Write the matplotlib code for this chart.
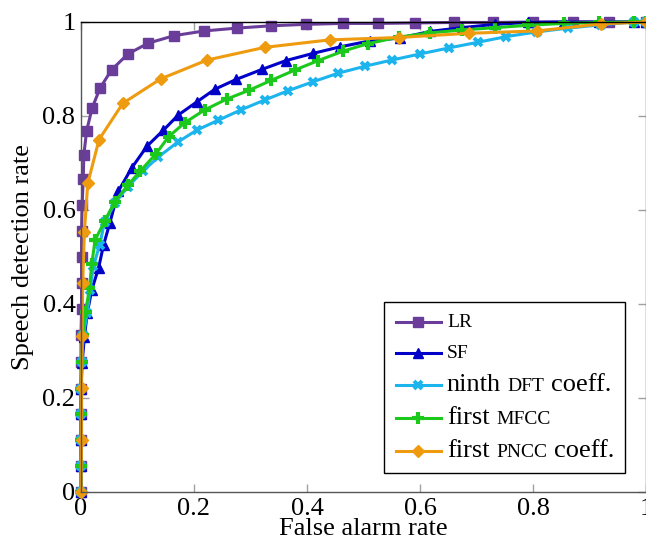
import matplotlib
matplotlib.use("Agg")
import matplotlib.pyplot as plt
from matplotlib.lines import Line2D
from matplotlib.offsetbox import (AnchoredOffsetbox, VPacker, HPacker,
                                  TextArea, DrawingArea)

plt.rcParams['font.family'] = ['Liberation Serif', 'DejaVu Serif']

# ---- data ----
lr_x = [0, 0, 0, 0, 0, 0, 0, 0.001, 0.001, 0.001, 0.001, 0.002, 0.004, 0.005, 0.01, 0.02,
        0.034, 0.054, 0.083, 0.119, 0.165, 0.218, 0.276, 0.337, 0.399, 0.463, 0.526, 0.591,
        0.66, 0.73, 0.8, 0.87, 0.935, 1.0]
lr_y = [0, 0.055, 0.11, 0.165, 0.22, 0.277, 0.333, 0.39, 0.444, 0.50, 0.555, 0.61, 0.666,
        0.717, 0.769, 0.818, 0.860, 0.898, 0.932, 0.955, 0.971, 0.981, 0.987, 0.992, 0.995,
        0.997, 0.997, 0.998, 0.999, 0.999, 1.0, 1.0, 1.0, 1.0]

sf_x = [0, 0, 0, 0, 0, 0.002, 0.006, 0.011, 0.019, 0.031, 0.040, 0.051, 0.066, 0.09, 0.117,
        0.146, 0.172, 0.205, 0.237, 0.275, 0.32, 0.363, 0.41, 0.458, 0.512, 0.565, 0.618,
        0.674, 0.733, 0.792, 0.854, 0.916, 0.978, 1.0]
sf_y = [0, 0.055, 0.11, 0.165, 0.22, 0.275, 0.33, 0.38, 0.43, 0.476, 0.526, 0.572, 0.64,
        0.69, 0.736, 0.770, 0.802, 0.830, 0.857, 0.878, 0.899, 0.918, 0.933, 0.947, 0.960,
        0.966, 0.980, 0.988, 0.995, 0.999, 1.0, 1.0, 1.0, 1.0]

dft_x = [0, 0, 0, 0, 0, 0.001, 0.004, 0.011, 0.016, 0.022, 0.033, 0.042, 0.06, 0.083, 0.11,
         0.137, 0.172, 0.205, 0.243, 0.283, 0.325, 0.367, 0.411, 0.455, 0.503, 0.55, 0.6,
         0.652, 0.703, 0.753, 0.807, 0.862, 0.92, 0.978, 1.0]
dft_y = [0, 0.055, 0.11, 0.165, 0.22, 0.277, 0.333, 0.38, 0.43, 0.48, 0.526, 0.575, 0.614,
         0.65, 0.683, 0.713, 0.745, 0.770, 0.791, 0.813, 0.834, 0.854, 0.873, 0.891, 0.906,
         0.919, 0.932, 0.945, 0.957, 0.969, 0.979, 0.987, 0.994, 1.0, 1.0]

mfcc_x = [0, 0, 0, 0, 0, 0.001, 0.003, 0.008, 0.015, 0.019, 0.025, 0.042, 0.06, 0.083, 0.105,
          0.133, 0.155, 0.184, 0.219, 0.258, 0.298, 0.337, 0.379, 0.42, 0.464, 0.508, 0.563,
          0.618, 0.675, 0.733, 0.792, 0.854, 0.916, 0.978, 1.0]
mfcc_y = [0, 0.055, 0.11, 0.165, 0.22, 0.277, 0.333, 0.384, 0.433, 0.485, 0.536, 0.577, 0.618,
          0.653, 0.683, 0.72, 0.756, 0.786, 0.813, 0.836, 0.855, 0.876, 0.898, 0.918, 0.938,
          0.954, 0.968, 0.977, 0.983, 0.988, 0.993, 0.997, 0.999, 1.0, 1.0]

pncc_x = [0, 0.001, 0.001, 0.002, 0.003, 0.006, 0.012, 0.032, 0.074, 0.141, 0.223, 0.325,
          0.44, 0.562, 0.686, 0.807, 0.921, 1.0]
pncc_y = [0, 0.111, 0.221, 0.332, 0.444, 0.554, 0.657, 0.750, 0.827, 0.879, 0.919, 0.946,
          0.962, 0.967, 0.976, 0.981, 0.996, 1.0]

# legend labels: (text, is_small_caps) pieces
label_parts = [
    [('LR', True)],
    [('SF', True)],
    [('ninth', False), ('DFT', True), ('coeff.', False)],
    [('first', False), ('MFCC', True)],
    [('first', False), ('PNCC', True), ('coeff.', False)],
]
ticks = [0, 0.2, 0.4, 0.6, 0.8, 1]
tick_labels = ['0', '0.2', '0.4', '0.6', '0.8', '1']

fig = plt.figure(figsize=(6.46, 5.40), dpi=100)
ax = fig.add_axes([81 / 646, 1 - 492 / 540, 1 - 81 / 646, 470 / 540])

lw = 2.2
# (x, y, colour, marker, size, edge width)
series = [
    (lr_x, lr_y, '#6A3D9A', 's', 6.5, 1.0),
    (sf_x, sf_y, '#0000C8', '^', 7.5, 1.0),
    (dft_x, dft_y, '#1CB4EC', 'x', 6.0, 2.8),
    (mfcc_x, mfcc_y, '#1DC81D', '+', 8.5, 3.0),
    (pncc_x, pncc_y, '#EE9B0F', 'D', 6.5, 1.0),
]
for x, y, c, m, ms, mew in series:
    ax.plot(x, y, color=c, lw=lw, marker=m, ms=ms, mec=c, mfc=c, mew=mew,
            clip_on=False)

ax.set_xlim(0, 1)
ax.set_ylim(0, 1)
ax.set_xticks(ticks)
ax.set_xticklabels(tick_labels)
ax.set_yticks(ticks)
ax.set_yticklabels(tick_labels)
ax.tick_params(direction='in', length=5.5, width=1.0, color='#a0a0a0', labelsize=19,
               top=True, right=True, pad=4)
for s in ['left', 'bottom', 'right']:
    ax.spines[s].set_color('#555555')
ax.spines['top'].set_color('black')
for s in ax.spines.values():
    s.set_linewidth(1.0)

ax.set_xlabel('False alarm rate', fontsize=19)
ax.set_ylabel('Speech detection rate', fontsize=19)
ax.xaxis.set_label_coords(0.5, -0.055)
ax.yaxis.set_label_coords(-0.083, 0.5)

# ---- legend with small-caps pieces ----
big, small = 19, 14
rows = []
for (x, y, c, m, ms, mew), parts in zip(series, label_parts):
    da = DrawingArea(33, 14, 0, 0)
    da.add_artist(Line2D([0, 33], [7, 7], color=c, lw=lw))
    da.add_artist(Line2D([16.5], [7], color=c, marker=m, ms=ms, mec=c, mfc=c, mew=mew))
    pieces = []
    for i, (t, sc) in enumerate(parts):
        if i > 0:
            pieces.append(DrawingArea(4.7, 1, 0, 0))
        pieces.append(TextArea(t, textprops=dict(fontsize=small if sc else big)))
    txt = HPacker(children=pieces, align='baseline', pad=0, sep=0)
    rows.append(HPacker(children=[da, txt], align='center', pad=0, sep=4))
box = VPacker(children=rows, align='left', pad=0, sep=8)
anch = AnchoredOffsetbox(loc='lower right', child=box, pad=0.8, borderpad=0,
                         frameon=True, prop=dict(size=10),
                         bbox_to_anchor=(0.963, 0.04), bbox_transform=ax.transAxes)
anch.patch.set_edgecolor('black')
anch.patch.set_linewidth(1.0)
anch.patch.set_facecolor('white')
anch.set_zorder(5)
ax.add_artist(anch)

fig.savefig('out.png', dpi=100)
